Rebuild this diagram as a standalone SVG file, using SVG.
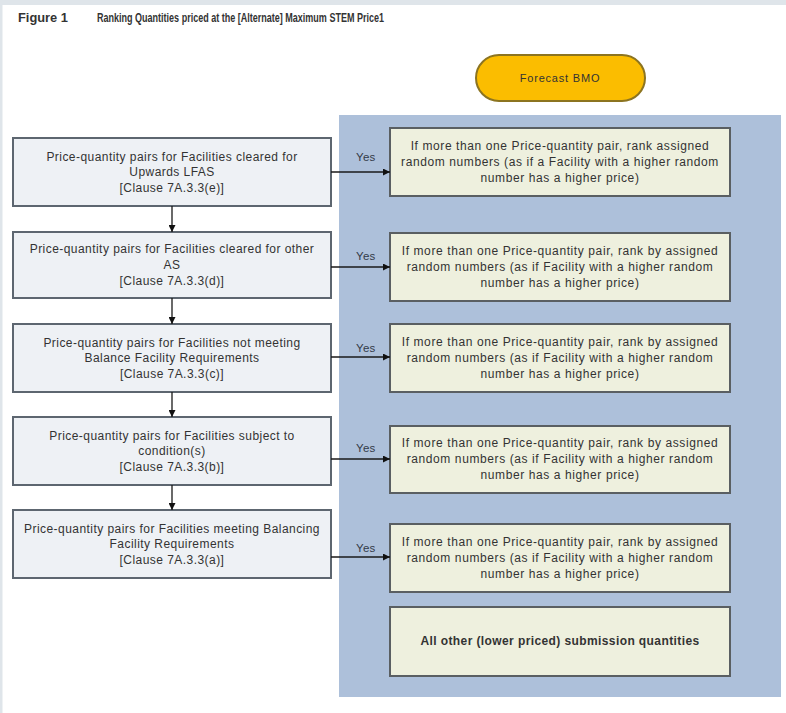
<svg xmlns="http://www.w3.org/2000/svg" width="786" height="713" viewBox="0 0 786 713">
<defs>
<style>
text{font-family:"Liberation Sans",Arial,sans-serif;fill:#333;}
.lb{fill:#eef1f5;stroke:#5d6670;stroke-width:2;}
.rb{fill:#eef0de;stroke:#5a5f62;stroke-width:2;}
.t{font-size:12px;text-anchor:middle;letter-spacing:0.45px;}
.r{font-size:12px;text-anchor:middle;letter-spacing:0.6px;}
.y{font-size:11.5px;fill:#333a48;letter-spacing:0.3px;}
.c{stroke:#1a1a1a;stroke-width:1.3;fill:none;marker-end:url(#ah);}
</style>
<marker id="ah" viewBox="0 0 10 10" refX="10" refY="5" markerWidth="7" markerHeight="7" markerUnits="userSpaceOnUse" orient="auto"><path d="M0,0 L10,5 L0,10 z" fill="#111"/></marker>
</defs>
<rect x="0" y="0" width="786" height="713" fill="#ffffff"/>
<rect x="0" y="0" width="786" height="5" fill="#dfe5ea"/>
<rect x="0" y="0" width="2.5" height="713" fill="#dfe5ea"/>
<g id="title">
<text x="18" y="22" font-size="13" font-weight="bold" textLength="50" lengthAdjust="spacingAndGlyphs" fill="#2a2a2a">Figure 1</text>
<text x="97" y="22" font-size="13" font-weight="bold" textLength="287" lengthAdjust="spacingAndGlyphs" fill="#2a2a2a">Ranking Quantities priced at the [Alternate] Maximum STEM Price1</text>
</g>
<rect id="panel" x="339" y="115" width="442" height="582" fill="#adc0da"/>
<g id="forecast">
<rect x="476" y="55" width="169" height="46" rx="23" fill="#fbbd00" stroke="#8c7420" stroke-width="2"/>
<text x="560" y="82" font-size="11" text-anchor="middle" letter-spacing="0.8" fill="#2e2600">Forecast BMO</text>
</g>
<g id="L1"><rect class="lb" x="13" y="138" width="318" height="68"/>
<text class="t" x="172" y="161">Price-quantity pairs for Facilities cleared for</text>
<text class="t" x="172" y="176">Upwards LFAS</text>
<text class="t" x="172" y="192">[Clause 7A.3.3(e)]</text></g>
<g id="L2"><rect class="lb" x="13" y="232" width="318" height="66"/>
<text class="t" x="172" y="253">Price-quantity pairs for Facilities cleared for other</text>
<text class="t" x="172" y="269">AS</text>
<text class="t" x="172" y="285">[Clause 7A.3.3(d)]</text></g>
<g id="L3"><rect class="lb" x="13" y="324" width="318" height="68"/>
<text class="t" x="172" y="347">Price-quantity pairs for Facilities not meeting</text>
<text class="t" x="172" y="362">Balance Facility Requirements</text>
<text class="t" x="172" y="378">[Clause 7A.3.3(c)]</text></g>
<g id="L4"><rect class="lb" x="13" y="417" width="318" height="68"/>
<text class="t" x="172" y="440">Price-quantity pairs for Facilities subject to</text>
<text class="t" x="172" y="455">condition(s)</text>
<text class="t" x="172" y="471">[Clause 7A.3.3(b)]</text></g>
<g id="L5"><rect class="lb" x="13" y="510" width="318" height="68"/>
<text class="t" x="172" y="533">Price-quantity pairs for Facilities meeting Balancing</text>
<text class="t" x="172" y="548">Facility Requirements</text>
<text class="t" x="172" y="564">[Clause 7A.3.3(a)]</text></g>
<g id="R1"><rect class="rb" x="390" y="128" width="340" height="68"/>
<text class="r" x="560" y="150">If more than one Price-quantity pair, rank assigned</text>
<text class="r" x="560" y="166">random numbers (as if a Facility with a higher random</text>
<text class="r" x="560" y="182">number has a higher price)</text></g>
<g id="R2"><rect class="rb" x="390" y="233" width="340" height="68"/>
<text class="r" x="560" y="255">If more than one Price-quantity pair, rank by assigned</text>
<text class="r" x="560" y="271">random numbers (as if Facility with a higher random</text>
<text class="r" x="560" y="287">number has a higher price)</text></g>
<g id="R3"><rect class="rb" x="390" y="324" width="340" height="68"/>
<text class="r" x="560" y="346">If more than one Price-quantity pair, rank by assigned</text>
<text class="r" x="560" y="362">random numbers (as if Facility with a higher random</text>
<text class="r" x="560" y="378">number has a higher price)</text></g>
<g id="R4"><rect class="rb" x="390" y="426" width="340" height="67"/>
<text class="r" x="560" y="447">If more than one Price-quantity pair, rank by assigned</text>
<text class="r" x="560" y="463">random numbers (as if Facility with a higher random</text>
<text class="r" x="560" y="479">number has a higher price)</text></g>
<g id="R5"><rect class="rb" x="390" y="524" width="340" height="68"/>
<text class="r" x="560" y="546">If more than one Price-quantity pair, rank by assigned</text>
<text class="r" x="560" y="562">random numbers (as if Facility with a higher random</text>
<text class="r" x="560" y="578">number has a higher price)</text></g>
<g id="R6"><rect class="rb" x="390" y="607" width="340" height="69"/>
<text x="560" y="645" font-size="12" font-weight="bold" text-anchor="middle" letter-spacing="0.4" fill="#222">All other (lower priced) submission quantities</text></g>
<g id="connectors">
<path class="c" d="M172,206 V232"/>
<path class="c" d="M172,298 V324"/>
<path class="c" d="M172,392 V417"/>
<path class="c" d="M172,485 V510"/>
<path class="c" d="M331,172 H390"/>
<path class="c" d="M331,267 H390"/>
<path class="c" d="M331,357 H390"/>
<path class="c" d="M331,459 H390"/>
<path class="c" d="M331,557 H390"/>
<text class="y" x="356" y="161">Yes</text>
<text class="y" x="356" y="260">Yes</text>
<text class="y" x="356" y="352">Yes</text>
<text class="y" x="356" y="452">Yes</text>
<text class="y" x="356" y="552">Yes</text>
</g>
</svg>
